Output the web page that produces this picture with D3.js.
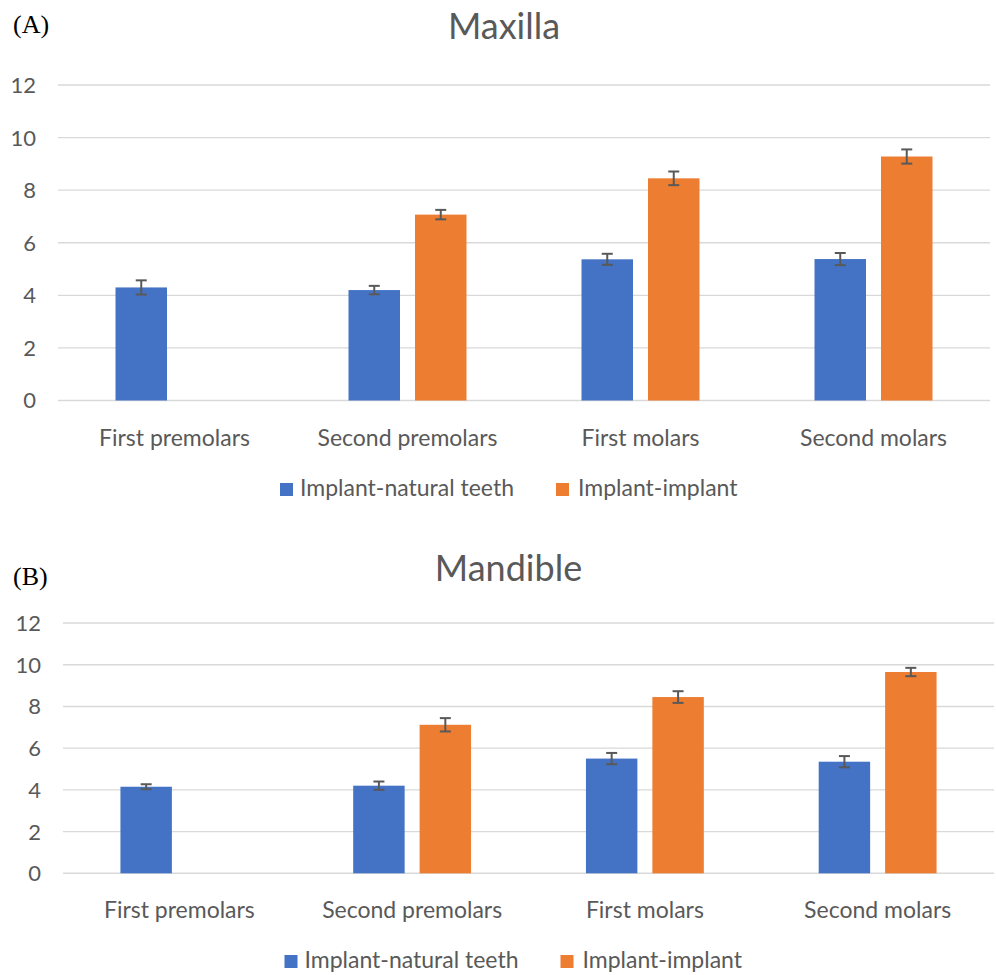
<!DOCTYPE html>
<html lang="en">
<head>
    <meta charset="UTF-8">
    <script src="https://d3js.org/d3.v7.min.js"></script>
    <title>Maxilla / Mandible</title>
    <style>
        body { margin: 0; background: #fff; }
        svg { display: block; }
        text { font-family: Lato, "Open Sans", sans-serif; fill: #595959; }
    </style>
</head>
<body>
<div id="viz"></div>
<script>
    // data
    let categories = ["First premolars", "Second premolars", "First molars", "Second molars"];
    let seriesNames = ["Implant-natural teeth", "Implant-implant"];
    let yTicks = [0, 2, 4, 6, 8, 10, 12];

    let maxillaNatural = [4.3, 4.2, 5.37, 5.38];
    let maxillaNaturalErr = [0.27, 0.16, 0.21, 0.23];
    let maxillaImplant = [null, 7.07, 8.45, 9.28];
    let maxillaImplantErr = [null, 0.18, 0.26, 0.27];

    let mandibleNatural = [4.15, 4.2, 5.5, 5.35];
    let mandibleNaturalErr = [0.12, 0.2, 0.27, 0.27];
    let mandibleImplant = [null, 7.12, 8.45, 9.65];
    let mandibleImplantErr = [null, 0.32, 0.28, 0.2];

    let colors = ["#4472C4", "#ED7D31"];

    let width = 996, height = 975;
    let svg = d3.select("#viz").append("svg")
        .attr("width", width)
        .attr("height", height);

    let drawChart = function(opt) {
        let g = svg.append("g");

        let x = d3.scaleBand()
            .domain(categories)
            .range([opt.left, opt.right])
            .paddingInner(0.4936)
            .paddingOuter(0.2468);
        let xSub = d3.scaleBand()
            .domain(seriesNames)
            .range([0, x.bandwidth()])
            .paddingInner(0.2256);
        let y = d3.scaleLinear()
            .domain([0, 12])
            .range([opt.bottom, opt.top]);

        // gridlines
        g.selectAll(".grid")
            .data(yTicks)
            .enter()
            .append("line")
            .attr("x1", opt.left)
            .attr("x2", opt.right)
            .attr("y1", function(d) { return y(d); })
            .attr("y2", function(d) { return y(d); })
            .attr("stroke", "#d9d9d9")
            .attr("stroke-width", 1.4);

        // y labels
        g.selectAll(".ylab")
            .data(yTicks)
            .enter()
            .append("text")
            .attr("x", opt.left - 22)
            .attr("y", function(d) { return y(d); })
            .attr("dy", "0.36em")
            .attr("text-anchor", "end")
            .style("font-size", "22px")
            .text(function(d) { return d; });

        // bars + error bars
        let rows = [];
        categories.forEach(function(c, i) {
            [opt.natural, opt.implant].forEach(function(vals, s) {
                let errs = s === 0 ? opt.naturalErr : opt.implantErr;
                if (vals[i] != null) {
                    rows.push({cat: c, series: seriesNames[s], value: vals[i], err: errs[i], idx: s});
                }
            });
        });

        g.selectAll(".bar")
            .data(rows)
            .enter()
            .append("rect")
            .attr("x", function(d) { return x(d.cat) + xSub(d.series); })
            .attr("y", function(d) { return y(d.value); })
            .attr("width", xSub.bandwidth())
            .attr("height", function(d) { return y(0) - y(d.value); })
            .attr("fill", function(d) { return colors[d.idx]; });

        let errG = g.selectAll(".err")
            .data(rows)
            .enter()
            .append("g")
            .attr("stroke", "#595959")
            .attr("stroke-width", 2);
        let cx = function(d) { return x(d.cat) + xSub(d.series) + xSub.bandwidth() / 2; };
        errG.append("line")
            .attr("x1", cx).attr("x2", cx)
            .attr("y1", function(d) { return y(d.value + d.err); })
            .attr("y2", function(d) { return y(d.value - d.err); });
        errG.append("line")
            .attr("x1", function(d) { return cx(d) - 5.5; })
            .attr("x2", function(d) { return cx(d) + 5.5; })
            .attr("y1", function(d) { return y(d.value + d.err); })
            .attr("y2", function(d) { return y(d.value + d.err); });
        errG.append("line")
            .attr("x1", function(d) { return cx(d) - 5.5; })
            .attr("x2", function(d) { return cx(d) + 5.5; })
            .attr("y1", function(d) { return y(d.value - d.err); })
            .attr("y2", function(d) { return y(d.value - d.err); });

        // category labels
        g.selectAll(".xlab")
            .data(categories)
            .enter()
            .append("text")
            .attr("x", function(d) { return x(d) + x.bandwidth() / 2; })
            .attr("y", opt.bottom + 45)
            .attr("text-anchor", "middle")
            .style("font-size", "23px")
            .text(function(d) { return d; });

        let mid = (opt.left + opt.right) / 2;

        // title
        g.append("text")
            .attr("x", mid - 20)
            .attr("y", opt.titleY)
            .attr("text-anchor", "middle")
            .style("font-size", "36px")
            .text(opt.title);

        // panel letter
        g.append("text")
            .attr("x", 13)
            .attr("y", opt.letterY)
            .style("font-family", "'Liberation Serif', 'Times New Roman', serif")
            .style("font-size", "26px")
            .style("fill", "#000")
            .text(opt.letter);

        // legend
        let legX = [mid - 244, mid + 32];
        let leg = g.selectAll(".leg")
            .data(seriesNames)
            .enter()
            .append("g")
            .attr("transform", function(d, i) { return "translate(" + legX[i] + "," + opt.legendY + ")"; });
        leg.append("rect")
            .attr("x", 0)
            .attr("y", -13)
            .attr("width", 13)
            .attr("height", 13)
            .attr("fill", function(d, i) { return colors[i]; });
        leg.append("text")
            .attr("x", function(d, i) { return i === 0 ? 20 : 22; })
            .attr("y", 0)
            .style("font-size", "23px")
            .text(function(d) { return d; });
    };

    drawChart({
        title: "Maxilla", letter: "(A)",
        left: 58, right: 990, top: 85, bottom: 400.5,
        titleY: 39, letterY: 33, legendY: 496,
        natural: maxillaNatural, naturalErr: maxillaNaturalErr,
        implant: maxillaImplant, implantErr: maxillaImplantErr
    });

    drawChart({
        title: "Mandible", letter: "(B)",
        left: 63, right: 994, top: 623, bottom: 873.3,
        titleY: 581, letterY: 585, legendY: 968,
        natural: mandibleNatural, naturalErr: mandibleNaturalErr,
        implant: mandibleImplant, implantErr: mandibleImplantErr
    });
</script>
</body>
</html>
